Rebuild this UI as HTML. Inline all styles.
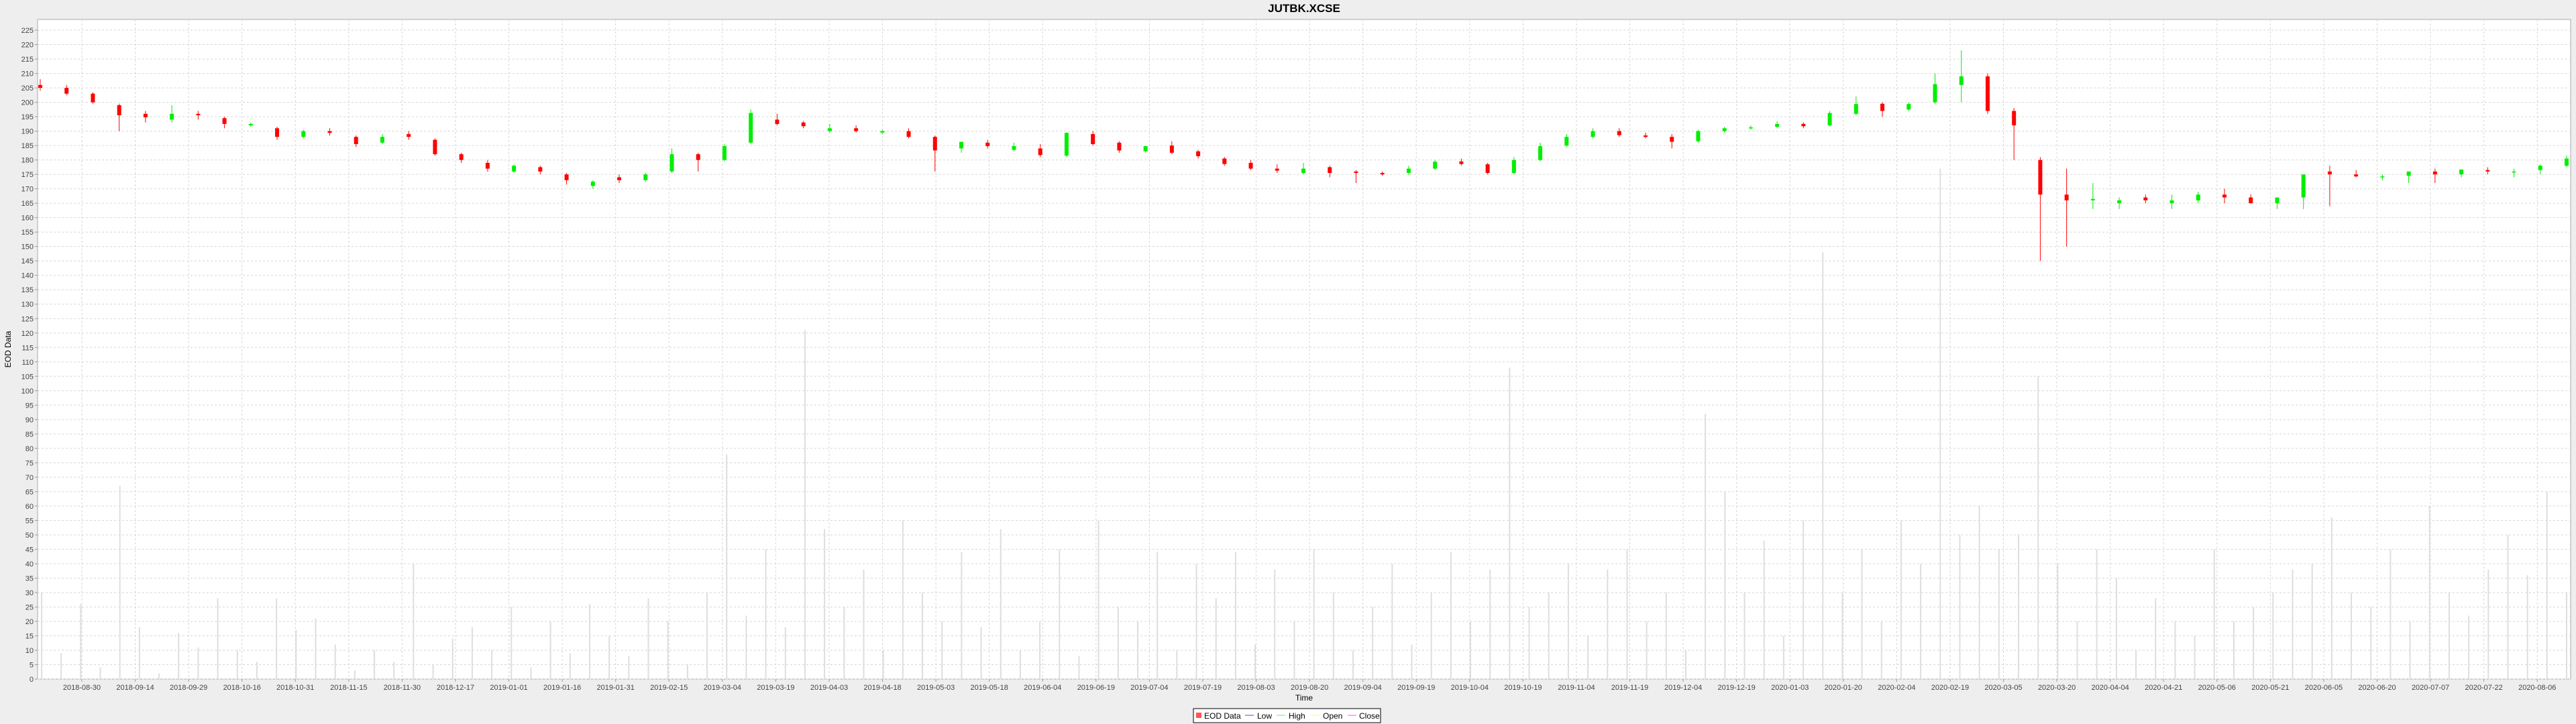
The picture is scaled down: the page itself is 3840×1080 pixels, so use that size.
<!DOCTYPE html>
<html><head><meta charset="utf-8">
<style>
html,body{margin:0;padding:0;background:#eeeeee;}
svg{display:block;font-family:"Liberation Sans",sans-serif;}
</style></head>
<body>
<svg id="chart" width="3840" height="1080" xmlns="http://www.w3.org/2000/svg">
<rect x="0" y="0" width="3840" height="1080" fill="#eeeeee"/>
<text x="1944" y="18" text-anchor="middle" font-size="17" font-weight="bold" fill="#000">JUTBK.XCSE</text>
<rect x="56" y="29" width="3776" height="984" fill="#ffffff" stroke="#aaaaaa" stroke-width="1"/>
<g id="grid"></g>
<g id="vol"></g>
<g id="candles"></g>
<g id="axes"></g>
<text transform="translate(16,521) rotate(-90)" text-anchor="middle" font-size="12" fill="#000">EOD Data</text>
<text x="1944" y="1045" text-anchor="middle" font-size="12" fill="#000">Time</text>
<g>
<rect x="1779" y="1057" width="279" height="21" fill="#fff" stroke="#000" stroke-width="1"/>
<rect x="1783" y="1063" width="8" height="8" fill="#ff5555"/>
<text x="1795" y="1072" font-size="12" fill="#000">EOD Data</text>
<line x1="1856" y1="1067" x2="1869" y2="1067" stroke="#4444ff"/>
<text x="1874" y="1072" font-size="12" fill="#000">Low</text>
<line x1="1903" y1="1067" x2="1916" y2="1067" stroke="#55ff55"/>
<text x="1921" y="1072" font-size="12" fill="#000">High</text>
<line x1="1954" y1="1067" x2="1967" y2="1067" stroke="#ffff55"/>
<text x="1972" y="1072" font-size="12" fill="#000">Open</text>
<line x1="2009" y1="1067" x2="2022" y2="1067" stroke="#ff55ff"/>
<text x="2026" y="1072" font-size="12" fill="#000">Close</text>
</g>
</svg>
<script>
const xTickLabels = ["2018-08-30","2018-09-14","2018-09-29","2018-10-16","2018-10-31","2018-11-15","2018-11-30","2018-12-17","2019-01-01","2019-01-16","2019-01-31","2019-02-15","2019-03-04","2019-03-19","2019-04-03","2019-04-18","2019-05-03","2019-05-18","2019-06-04","2019-06-19","2019-07-04","2019-07-19","2019-08-03","2019-08-20","2019-09-04","2019-09-19","2019-10-04","2019-10-19","2019-11-04","2019-11-19","2019-12-04","2019-12-19","2020-01-03","2020-01-20","2020-02-04","2020-02-19","2020-03-05","2020-03-20","2020-04-04","2020-04-21","2020-05-06","2020-05-21","2020-06-05","2020-06-20","2020-07-07","2020-07-22","2020-08-06"];
const yTicks = [0,5,10,15,20,25,30,35,40,45,50,55,60,65,70,75,80,85,90,95,100,105,110,115,120,125,130,135,140,145,150,155,160,165,170,175,180,185,190,195,200,205,210,215,220,225];
const opens = [206,205,203,199,196,194,196,194.5,192,191,188,190,188,186,189,187,182,179,176,177.5,175,171,174,173,176,
182,180,186,194,193,190,191,189.5,190,188,184,186,183.5,184,181.5,189,186,183,185,183,180.5,179,177,175.5,
177.5,176,175.5,175.5,177,179.5,178.5,175.5,180,185,188,190,188.5,188,186.5,190,191,191.5,192.5,192,196,199.5,197.5,200,
206,209,197,180,168,166,165,167,165,166,168,167,165,167,176,175,174,174.5,176,175,176.5,176,176.5,178];
const closes = [205,203,200,195.5,194.8,196,195.5,192.5,192.5,188,190,189.4,185.5,188,188,182,180,177,178,176,173,172.5,173,175,182,
180,184.8,196.3,192.5,191.7,191,190,190,188,183.3,186.3,184.8,184.8,181.7,189.4,185.5,183.3,184.8,182.5,181.3,178.6,177,176.3,177,
175.5,175.5,175,177,179.4,178.6,175.5,180,184.8,188,190,188.6,188,186.3,190,191,191.3,192.5,191.7,196.3,199.4,197,199.4,206.3,
209,197,192,168,166,166.5,166,166,166,168,167,165,167,175,175,174.3,174.3,176,175,176.7,176,176,178,180.5];
const highs = [208,206,203.5,199.5,197,199,197,195,193,191.5,190.5,191,188.5,189,190,187.5,182.5,180,178.5,178,175.5,173,175,175.5,184,
182.5,185.5,197.5,196,193.5,192.5,192,190.5,191,188.5,185,187,186,185.5,189.6,190,186.5,184.5,186.5,183.5,181,180,178.5,179,
178,176.5,176,178,180,180.5,179,181,186,189,191,191,189.5,189,190.5,191.5,192,193.5,193,197,202,200,200,210,
218,210,198,181,177,172,167,168,168,169,170,168,166,168,178,176.5,175,175,177,176,177.5,177,178.5,181.5];
const lows = [204,202.5,199.5,190,193,193,194,191,191.5,187,187.5,188.5,184.5,185.5,187,181.5,179,176,175.5,175,171.5,170,172,172.5,175.5,
176,179.5,185.5,192,191,189.5,189.5,189,187.5,176,182.5,184,183,181,181,185,182.5,182.5,182,180.5,178,176.5,175.5,175,
174,172,174.5,174.8,176.5,178,175,175,179.5,184.5,187.5,188,187.5,184,186,189.5,190.5,191,191,191.5,195.5,195,197,199.5,
200,196,180,145,150,163,163,165,163,165,165,165,163,163,164,174,173,172,172,174,175,174,175,177.5];
const volumes = [30,9,26,4,67,18,2,16,11,28,10,6,28,17,21,12,3,10,6,40,5,14,18,10,25,4,20,9,26,15,
8,28,20,5,30,78,22,45,18,121,52,25,38,10,55,30,20,44,18,52,10,20,45,8,55,25,20,44,10,40,
28,44,12,38,20,45,30,10,25,40,12,30,44,20,38,108,25,30,40,15,38,45,20,30,10,92,65,30,48,15,
55,148,30,45,20,55,40,177,50,60,45,50,105,40,20,45,35,10,28,20,15,45,20,25,30,38,40,56,30,25,
45,20,60,30,22,38,50,36,65,30];

const NS = "http://www.w3.org/2000/svg";
const PL = 56, PR = 3832, PT = 29, PB = 1013;
const YMAX = (PB - PT) / 4.302;
function yS(v){ return PB - v / YMAX * (PB - PT); }
function xCandle(i){ return 60 + i * (3826 - 60) / (opens.length - 1); }
function xVol(i){ return 62 + i * (3826 - 62) / (volumes.length - 1); }
function xTick(i){ return 122 + i * 79.57; }
function mk(tag, attrs, parent){
  const e = document.createElementNS(NS, tag);
  for (const k in attrs) e.setAttribute(k, attrs[k]);
  parent.appendChild(e);
  return e;
}
const grid = document.getElementById('grid');
const axes = document.getElementById('axes');
yTicks.forEach(v => {
  const y = yS(v);
  const gl = mk('line', {x1: PL, x2: PR, y1: y, y2: y, stroke: '#d6d6d6', 'stroke-dasharray': '3,3'}, grid);
  
  
  const t = mk('text', {x: 50, y: y + 4, 'text-anchor': 'end', 'font-size': 11, fill: '#444'}, axes);
  t.textContent = v;
  
  
  mk('line', {x1: 52, x2: 56, y1: y, y2: y, stroke: '#999'}, axes);
});
xTickLabels.forEach((lab, i) => {
  const x = xTick(i);
  const gl = mk('line', {x1: x, x2: x, y1: PT, y2: PB, stroke: '#d6d6d6', 'stroke-dasharray': '3,3'}, grid);
  
  
  mk('line', {x1: x, x2: x, y1: PB, y2: PB + 4, stroke: '#999'}, axes);
  const t = mk('text', {x: x, y: PB + 16, 'text-anchor': 'middle', 'font-size': 11, fill: '#444'}, axes);
  t.textContent = lab;
  
  
});
const volG = document.getElementById('vol');
volumes.forEach((v, i) => {
  const x = xVol(i);
  const r = mk('rect', {x: x - 1, y: yS(v), width: 2, height: PB - yS(v), fill: '#dedede'}, volG);
  
  
});
const cg = document.getElementById('candles');
opens.forEach((o, i) => {
  const c = closes[i], h = highs[i], l = lows[i];
  const x = xCandle(i);
  const col = c >= o ? '#00ee00' : '#ff0000';
  const w = mk('line', {x1: x, x2: x, y1: yS(h), y2: yS(l), stroke: col, 'stroke-width': 1}, cg);
  
  
  const top = yS(Math.max(o, c)), bot = yS(Math.min(o, c));
  const b = mk('rect', {x: x - 3, y: top, width: 6, height: Math.max(1.5, bot - top), fill: col}, cg);
  
  
});
</script>
</body></html>
